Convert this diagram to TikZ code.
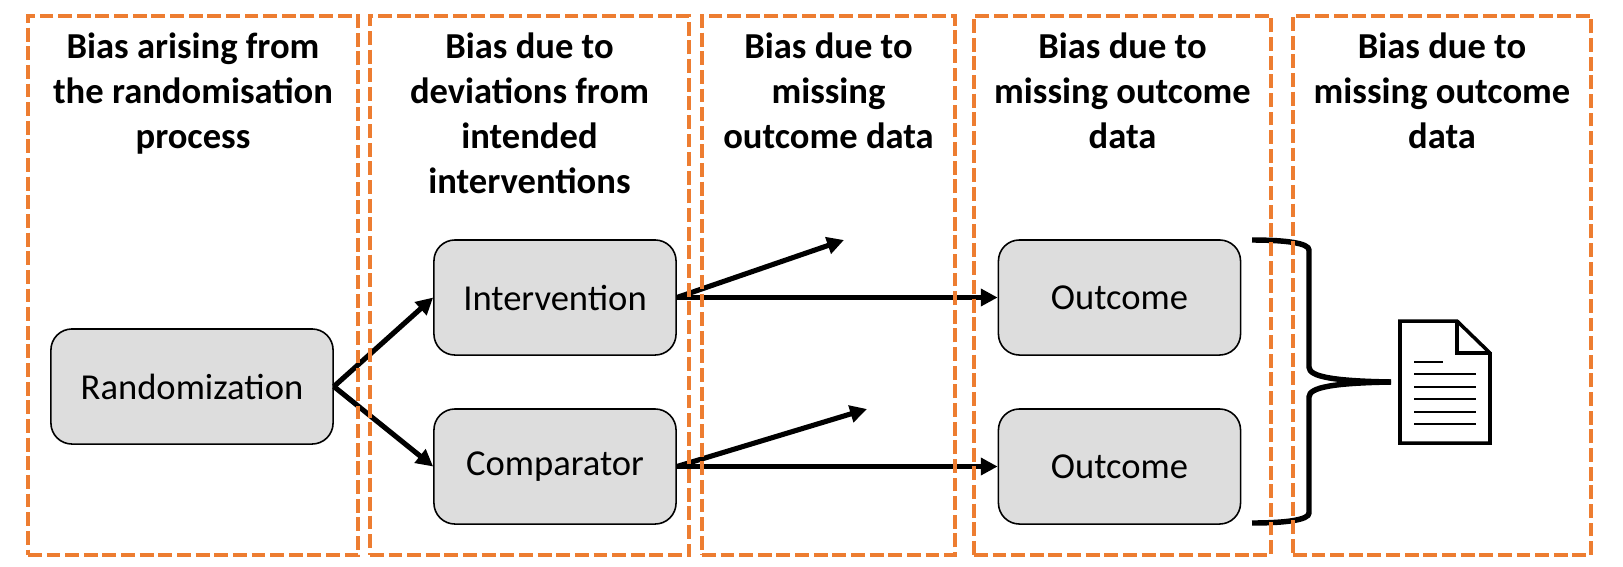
\documentclass[tikz,border=0pt]{standalone}
\usepackage{fontspec}
\setmainfont{Carlito}
\usetikzlibrary{arrows.meta}
\usetikzlibrary{positioning}
\definecolor{framecol}{HTML}{ED7D31}
\definecolor{boxcol}{HTML}{DDDDDD}
\tikzset{
  biasframe/.style={draw=framecol,line width=1.3pt,dash pattern=on 3.95pt off 1.35pt,inner sep=0pt},
  headtext/.style={font=\bfseries\fontsize{10.4}{12.8}\selectfont,align=center,anchor=north,inner sep=0pt},
  armbox/.style={draw,fill=boxcol,rounded corners=0.21cm,line width=0.45pt,inner sep=0pt,
    minimum width=2.42cm,minimum height=1.15cm,font=\fontsize{10.4}{12.8}\selectfont},
  armline/.style={line width=1.45pt,-{Triangle[length=4.8pt,width=4.8pt]}},
  braceline/.style={line width=1.55pt},
  docline/.style={line width=0.75pt}
}
\begin{document}
\begin{tikzpicture}[x=0.01cm,y=-0.01cm]
  \useasboundingbox (0,0) rectangle (1623,566);
  \node[armbox,minimum width=2.82cm] (randbox) at (192,386.5) {Randomization};
  \node[armbox] (interbox) at (555,297.5) {Intervention};
  \node[armbox] (compbox) at (555,466.5) {Comparator};
  \node[armbox] (outa) at (1119.5,297.5) {Outcome};
  \node[armbox] (outb) at (1119.5,466.5) {Outcome};
  \coordinate (upa) at (844,240);
  \coordinate (upb) at (867,409);
  \draw[armline] (randbox.east) -- (interbox.west);
  \draw[armline] (randbox.east) -- (compbox.west);
  \draw[armline] (interbox.east) -- (upa);
  \draw[armline] (compbox.east) -- (upb);
  \draw[armline] (interbox.east) -- (outa.west);
  \draw[armline] (compbox.east) -- (outb.west);
  % brace towards the report
  \coordinate (bracea) at (1252,240);
  \coordinate (braceb) at (1252,523);
  \coordinate (bracetip) at (1391,382);
  \draw[braceline] (bracea) .. controls (1285,240) and (1309,243) .. (1309,250) -- (1309,367)
    .. controls (1309,377) and (1335,381) .. (bracetip);
  \draw[braceline] (braceb) .. controls (1285,523) and (1309,520) .. (1309,513) -- (1309,397)
    .. controls (1309,387) and (1335,383) .. (bracetip);
  % report icon
  \draw[line width=1pt,miter limit=4] (1457,321) -- (1400,321) -- (1400,443) -- (1490,443) -- (1490,353) -- cycle;
  \draw[line width=1pt] (1457,321) -- (1457,353) -- (1490,353);
  \draw[docline] (1414,362) -- (1443,362);
  \draw[docline] (1414,374) -- (1476,374);
  \draw[docline] (1414,387) -- (1476,387);
  \draw[docline] (1414,399) -- (1476,399);
  \draw[docline] (1414,412) -- (1476,412);
  \draw[docline] (1414,424) -- (1476,424);
  % frames
  \node[biasframe,minimum width=3.30cm,minimum height=5.39cm] (frameran) at (193,285.5) {};
  \node[biasframe,minimum width=3.19cm,minimum height=5.39cm] (framedev) at (529.5,285.5) {};
  \node[biasframe,minimum width=2.53cm,minimum height=5.39cm] (framemis) at (828.5,285.5) {};
  \node[biasframe,minimum width=2.97cm,minimum height=5.39cm] (frameout) at (1122.5,285.5) {};
  \node[biasframe,minimum width=2.98cm,minimum height=5.39cm] (framerep) at (1442,285.5) {};
  \node[headtext] (headran) at (193,32) {Bias arising from\\the randomisation\\process};
  \node[headtext] (headdev) at (529.5,32) {Bias due to\\deviations from\\intended\\interventions};
  \node[headtext] (headmis) at (828.5,32) {Bias due to\\missing\\outcome data};
  \node[headtext] (headout) at (1122.5,32) {Bias due to\\missing outcome\\data};
  \node[headtext] (headrep) at (1442,32) {Bias due to\\missing outcome\\data};
\end{tikzpicture}
\end{document}
